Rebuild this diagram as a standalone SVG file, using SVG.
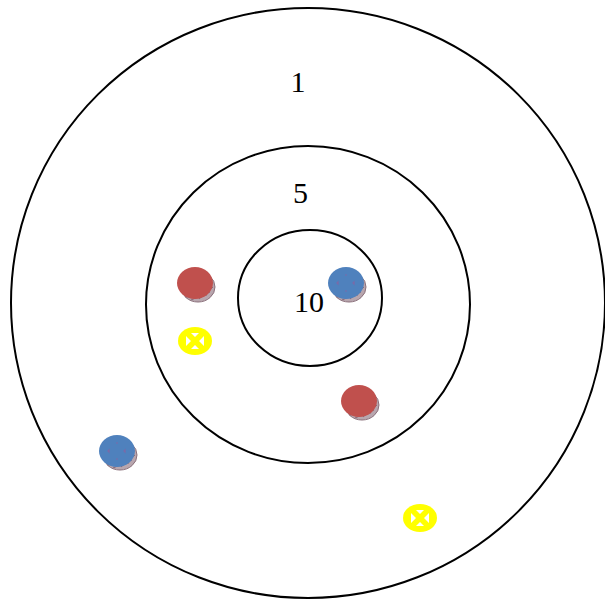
<svg xmlns="http://www.w3.org/2000/svg" width="605" height="600" viewBox="0 0 605 600">
<defs>
<style>
.ring{fill:none;stroke:#000;stroke-width:2}
.lbl{font-family:"Liberation Serif",serif;font-size:30px;fill:#000;text-anchor:middle}
.base{fill:#b8a6ae;stroke:#8a6f7a;stroke-width:1}
.red{fill:#c0504d}
.blue{fill:#4f81bd}
.mark{fill:none;stroke:#9a5a9a;stroke-width:1.2;opacity:0.6}
.yel{fill:#ffff00}
</style>
<g id="disc-red">
<ellipse class="base" cx="3" cy="4" rx="17" ry="15"/>
<path d="M-10,14 L12,12 M-4,17 L15,9 M4,16 L18,4" stroke="#7a5565" stroke-width="0.8" fill="none"/>
<ellipse class="red" cx="0" cy="0" rx="18" ry="16"/>
</g>
<g id="disc-blue">
<ellipse class="base" cx="3" cy="4" rx="17" ry="15"/>
<path d="M-10,14 L12,12 M-4,17 L15,9 M4,16 L18,4" stroke="#7a5565" stroke-width="0.8" fill="none"/>
<ellipse class="blue" cx="0" cy="0" rx="18" ry="16"/>
<path d="M-1,-8 L1,-8 M-9,0 L-8,-1 L-8,1 Z M7,0 L8,-1 L8,1 Z M-1,8 L1,8" class="mark"/>
</g>
<g id="cross">
<ellipse class="yel" cx="0" cy="0" rx="17" ry="14"/>
<path d="M-9,-5 L-4,0 L-9,5 Z M9,-5 L4,0 L9,5 Z M-4,-8 L0,-4 L4,-8 Z M-4,8 L0,4 L4,8 Z" fill="#fff"/>
</g>
</defs>
<rect width="605" height="600" fill="#fff"/>
<g id="ring-outer"><ellipse class="ring" cx="308" cy="303" rx="297" ry="295"/><text class="lbl" x="298" y="92">1</text></g>
<g id="ring-middle"><ellipse class="ring" cx="308" cy="304.5" rx="162" ry="158.5"/><text class="lbl" x="300.5" y="202.5">5</text></g>
<g id="ring-inner"><ellipse class="ring" cx="310" cy="298" rx="72" ry="68"/><text class="lbl" x="309" y="311.5">10</text></g>
<g id="connectors"/>
<g id="red1"><use href="#disc-red" x="195" y="283"/></g>
<g id="blue1"><use href="#disc-blue" x="346" y="283"/></g>
<g id="red2"><use href="#disc-red" x="359" y="401"/></g>
<g id="blue2"><use href="#disc-blue" x="117" y="451"/></g>
<g id="yellow1"><use href="#cross" x="195" y="341"/></g>
<g id="yellow2"><use href="#cross" x="420" y="518"/></g>
</svg>
